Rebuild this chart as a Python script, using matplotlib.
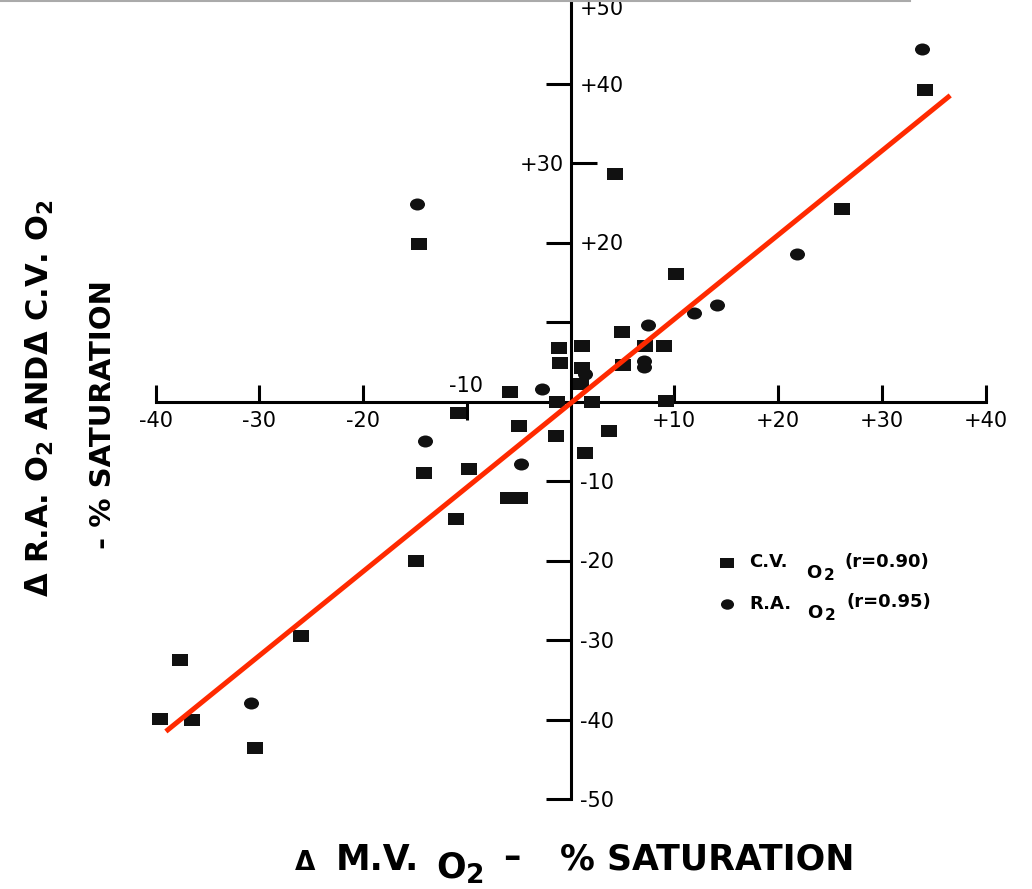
import matplotlib.pyplot as plt
from matplotlib.markers import MarkerStyle
from matplotlib.transforms import Affine2D
from matplotlib.lines import Line2D

# C.V. O2 (squares) - change in % saturation vs change in M.V. O2
cv_x = [34.2, 4.3, -14.6, 26.2, 10.2, 5.0, 9.0, 7.2, 5.1, -1.1, 1.1, -1.0, 1.1, 1.0,
        -5.8, -1.3, 2.1, 9.2, -10.8, -5.0, -1.4, 3.7, 1.4, -14.1, -9.8, -6.0, -4.9,
        -11.0, -14.9, -26.0, -37.6, -39.6, -36.5, -30.4]
cv_y = [39.2, 28.6, 19.8, 24.2, 16.1, 8.8, 7.0, 7.0, 4.6, 6.7, 7.0, 4.9, 4.2, 2.2,
        1.2, -0.1, -0.1, 0.1, -1.4, -3.1, -4.3, -3.7, -6.5, -9.0, -8.5, -12.2, -12.2,
        -14.8, -20.1, -29.5, -32.5, -39.9, -40.1, -43.6]
# R.A. O2 (dots)
ra_x = [33.9, 21.8, 14.1, 11.9, 7.5, 7.1, 7.1, 1.4, -2.7, -14.8, -14.0, -4.8, -30.8]
ra_y = [44.4, 18.6, 12.2, 11.1, 9.6, 5.1, 4.3, 3.4, 1.6, 24.9, -5.0, -7.9, -37.9]
fit_x = [-39.0, 36.6]
fit_y = [-41.5, 38.5]

x_ticks = [-40, -30, -20, 10, 20, 30, 40]
x_labels = ['-40', '-30', '-20', '+10', '+20', '+30', '+40']
y_ticks = [-50, -40, -30, -20, -10, 10, 20, 40]
y_labels = ['-50', '-40', '-30', '-20', '-10', '', '+20', '+40']
leg_names = ['C.V.', 'R.A.']
leg_r = ['(r=0.90)', '(r=0.95)']

plt.rcParams['font.family'] = 'DejaVu Sans'

W, H = 1032, 889
def px(x, y):
    return x / W, 1 - y / H

fig = plt.figure(figsize=(W / 100, H / 100), dpi=100)
ax = fig.add_axes([0, 0, 1, 1])
ax.patch.set_visible(False)
ax.set_xlim(-570.5 / 10.375, (W - 570.5) / 10.375)
ax.set_ylim(-(H - 401.5) / 7.95, 401.5 / 7.95)

sq = MarkerStyle('s', transform=Affine2D().scale(1.0, 0.75))
ci = MarkerStyle('o', transform=Affine2D().scale(1.0, 0.8))
h1 = ax.scatter(cv_x, cv_y, marker=sq, s=117, color='#111111', linewidths=0, zorder=3)
h2 = ax.scatter(ra_x, ra_y, marker=ci, s=117, color='#111111', linewidths=0, zorder=3)
ax.plot(fit_x, fit_y, color='#ff2a00', lw=3.6, solid_capstyle='butt', zorder=4)

# axes crossing at origin
for s in ['left', 'bottom', 'right']:
    ax.spines[s].set_position(('data', 0))
ax.spines['top'].set_visible(False)
ax.spines['right'].set_visible(False)
ax.spines['left'].set_linewidth(2.2)
ax.spines['bottom'].set_linewidth(2.2)
ax.spines['left'].set_bounds(-50, 51)
ax.spines['bottom'].set_bounds(-40, 40)

ax.set_xticks(x_ticks, x_labels, fontsize=15)
ax.set_xticks([-10], [''], minor=True)
ax.tick_params(axis='x', which='major', direction='in', length=12, width=2.2, pad=7)
ax.tick_params(axis='x', which='minor', direction='out', length=13, width=2.2)

ax.set_yticks(y_ticks, y_labels, fontsize=15)
ax.set_yticks([30], ['+30'], minor=True, fontsize=15)
ax.tick_params(axis='y', which='major', direction='out', length=18, width=2.2,
               left=True, right=False, labelleft=False, labelright=True, pad=-11.5)
ax.tick_params(axis='y', which='minor', direction='in', length=19, width=2.2,
               left=True, right=False, labelleft=True, labelright=False, pad=4.5)

ax.text(-10.1, 2.0, '-10', ha='center', va='center', fontsize=15)
ax.text(0.9, 49.4, '+50', ha='left', va='center', fontsize=15)

# x title
fig.text(*px(295, 870), 'Δ', fontsize=19, fontweight='bold', ha='left', va='baseline')
fig.text(*px(336, 870), 'M.V.', fontsize=25, fontweight='bold', ha='left', va='baseline')
fig.text(*px(436, 878), 'O', fontsize=25, fontweight='bold', ha='left', va='baseline')
fig.text(*px(466, 883), '2', fontsize=19, fontweight='bold', ha='left', va='baseline')
fig.text(*px(503, 868), '–', fontsize=25, fontweight='bold', ha='left', va='baseline')
fig.text(*px(560, 870), '% SATURATION', fontsize=25, fontweight='bold', ha='left', va='baseline')

# y title
fig.text(*px(40, 398), r'Δ R.A. $\mathregular{O_2}$ ANDΔ C.V. $\mathregular{O_2}$', fontsize=22,
         fontweight='bold', rotation=90, ha='center', va='center')
fig.text(*px(103, 415), '- % SATURATION', fontsize=21, fontweight='bold',
         rotation=90, ha='center', va='center')

# legend: markers + names through legend, O2 and r values beside
ax.legend([h1, h2], leg_names, loc='upper left', bbox_to_anchor=(0.6964, 0.3776),
          frameon=False, prop={'size': 13, 'weight': 'bold'}, markerscale=0.87,
          handlelength=0.95, handletextpad=0.75, labelspacing=1.32, borderpad=0,
          borderaxespad=0)
for i, (r_txt, y0) in enumerate(zip(leg_r, [567, 607])):
    fig.text(*px(806 + i, y0 + 11), 'O', fontsize=13, fontweight='bold', va='baseline')
    fig.text(*px(824 + i, y0 + 13), '2', fontsize=11, fontweight='bold', va='baseline')
    fig.text(*px(845 + 2 * i, y0), r_txt, fontsize=13, fontweight='bold', va='baseline')

# scan frame edge at the top
fig.add_artist(Line2D([0, 910 / W], [1 - 1 / H, 1 - 1 / H], color='#aaaaaa', lw=1.5))

fig.savefig('out.png', dpi=100)
